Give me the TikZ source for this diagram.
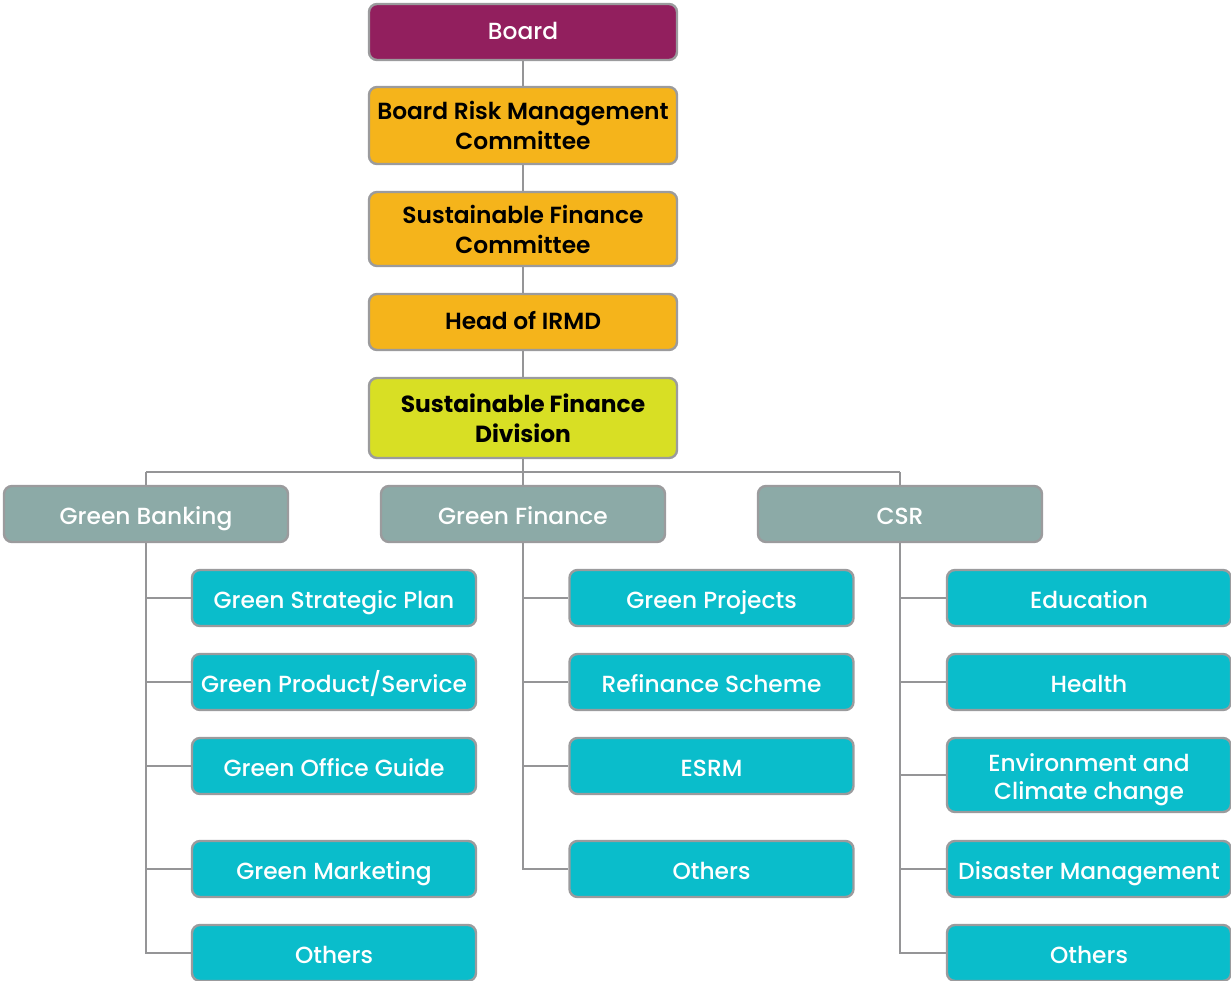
\documentclass[tikz,border=0pt]{standalone}
\usepackage{fontspec}
\setmainfont{Poppins}[UprightFont=* Medium, BoldFont=* SemiBold]
\newfontfamily\heavyfont{Poppins}[UprightFont=* Bold]
\usetikzlibrary{backgrounds}
\definecolor{cBoard}{HTML}{921F5E}
\definecolor{cOrange}{HTML}{F5B41B}
\definecolor{cLime}{HTML}{D8DF24}
\definecolor{cGrey}{HTML}{8CAAA7}
\definecolor{cCyan}{HTML}{0ABDCB}
\definecolor{cEdge}{HTML}{9B9B9D}
\definecolor{cLine}{HTML}{959597}
\tikzset{
  box/.style={draw=cEdge, line width=1.8pt, rounded corners=6pt, align=center,
    font=\fontsize{17.5}{21}\selectfont, inner sep=0pt},
  one/.style={text height=12pt, text depth=0.5pt},
  low/.style={text height=15pt, text depth=0pt},
  topbox/.style={box, minimum width=231pt, minimum height=42pt},
  boardbox/.style={topbox, fill=cBoard, text=white},
  orbox/.style={topbox, fill=cOrange, text=black, font=\fontsize{17.5}{22.5}\selectfont\bfseries},
  limebox/.style={topbox, fill=cLime, text=black, font=\fontsize{17.5}{22.5}\selectfont\heavyfont},
  grbox/.style={box, fill=cGrey, text=white, minimum width=213pt, minimum height=42pt},
  cybox/.style={box, fill=cCyan, text=white, minimum width=213pt, minimum height=42pt},
  conn/.style={draw=cLine, line width=2.2pt}
}
\begin{document}
\begin{tikzpicture}[x=0.75pt,y=-0.75pt]
\useasboundingbox (0,0) rectangle (1231,981);
\clip (0,0) rectangle (1231,981);
% top chain
\node[boardbox, one] (board) at (523,32) {Board};
\node[orbox, minimum height=57.75pt] (brmc) at (523,125.5) {Board Risk Management\\Committee};
\node[orbox, minimum height=55.5pt] (sfc) at (523,229) {Sustainable Finance\\Committee};
\node[orbox, one] (irmd) at (523,322) {Head of IRMD};
\node[limebox, minimum height=60pt] (sfd) at (523,418) {Sustainable Finance\\Division};
% second level
\node[grbox, low] (gb) at (146,514) {Green Banking};
\node[grbox, low] (gf) at (523,514) {Green Finance};
\node[grbox, low] (csr) at (900,514) {CSR};
% green banking children
\node[cybox, low] (gb1) at (334,598) {Green Strategic Plan};
\node[cybox, low] (gb2) at (334,682) {Green Product/Service};
\node[cybox, low] (gb3) at (334,766) {Green Office Guide};
\node[cybox, low] (gb4) at (334,869) {Green Marketing};
\node[cybox, low] (gb5) at (334,953) {Others};
% green finance children
\node[cybox, low] (gf1) at (711.5,598) {Green Projects};
\node[cybox, low] (gf2) at (711.5,682) {Refinance Scheme};
\node[cybox, low] (gf3) at (711.5,766) {ESRM};
\node[cybox, low] (gf4) at (711.5,869) {Others};
% csr children
\node[cybox, low] (cs1) at (1089,598) {Education};
\node[cybox, low] (cs2) at (1089,682) {Health};
\node[cybox, minimum height=55.5pt, font=\fontsize{17.5}{20.5}\selectfont] (cs3) at (1089,775) {\rule{0pt}{20.5pt}Environment and\\Climate change};
\node[cybox, low] (cs4) at (1089,869) {Disaster Management};
\node[cybox, low] (cs5) at (1089,953) {Others};
% connectors
\coordinate (busL) at (146,472);
\coordinate (busC) at (523,472);
\coordinate (busR) at (900,472);
\begin{scope}[on background layer]
\draw[conn] (board) -- (brmc);
\draw[conn] (brmc) -- (sfc);
\draw[conn] (sfc) -- (irmd);
\draw[conn] (irmd) -- (sfd);
\draw[conn] (sfd.south) -- (busC) -- (gf.north);
\draw[conn] (busL) -- (busR);
\draw[conn] (busL) -- (gb.north);
\draw[conn] (busR) -- (csr.north);
\foreach \c in {gb1,gb2,gb3,gb4,gb5} \draw[conn] (gb.south) |- (\c.west);
\foreach \c in {gf1,gf2,gf3,gf4} \draw[conn] (gf.south) |- (\c.west);
\foreach \c in {cs1,cs2,cs3,cs4,cs5} \draw[conn] (csr.south) |- (\c.west);
\end{scope}
\end{tikzpicture}
\end{document}
